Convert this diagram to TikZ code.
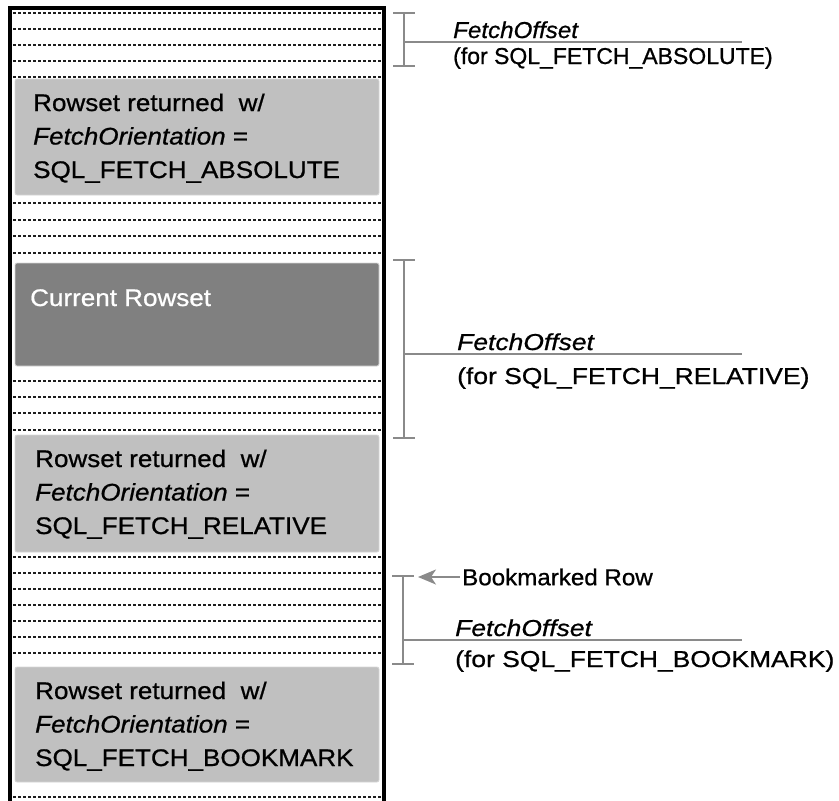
\documentclass[tikz,border=0pt]{standalone}
\usepackage{fontspec}
\setmainfont[FakeBold=0.8]{Liberation Sans}
\newfontfamily\boxfont[FakeStretch=1.085,FakeBold=0.8]{Liberation Sans}
\newfontfamily\widefont[FakeStretch=1.15,FakeBold=0.8]{Liberation Sans}
\newfontfamily\midfont[FakeStretch=1.05,FakeBold=0.8]{Liberation Sans}
\usetikzlibrary{arrows.meta}
\definecolor{lightbox}{HTML}{C0C0C0}
\definecolor{darkbox}{HTML}{808080}
\definecolor{boxedge}{HTML}{D6D6D6}
\definecolor{brk}{HTML}{8A8A8A}
\definecolor{dashc}{HTML}{1E1E1E}
\begin{document}
\begin{tikzpicture}[x=1pt,y=-1pt,
  rowline/.style={draw=dashc, line width=1.1pt, dash pattern=on 3pt off 2pt},
  rowsetbox/.style={draw=boxedge, line width=0.8pt, rounded corners=2pt, fill=lightbox},
  currentbox/.style={rowsetbox, fill=darkbox},
  boxtext/.style={anchor=base west, inner sep=0pt, font=\boxfont\fontsize{24}{28}\selectfont},
  labeltext/.style={anchor=base west, inner sep=0pt, font=\fontsize{23}{27}\selectfont},
  widelabel/.style={anchor=base west, inner sep=0pt, font=\widefont\fontsize{23}{27}\selectfont},
  bracketline/.style={draw=brk, line width=2.5pt},
  frameline/.style={draw=black, line width=3.2pt, line join=miter}
]
\useasboundingbox (0,0) rectangle (839,801);

% outer frame
\draw[frameline] (10,801) -- (10,8) -- (384,8) -- (384,801);

% dashed rows
\foreach \y in {13,29,45,61,77,203,220,236,253,381,397,413,430,557,573,589,605,621,637,653,797}
  \draw[rowline] (13,\y) -- (381,\y);

% rowset boxes
\path[rowsetbox] (15,79) rectangle (379,195);
\node[inner sep=0pt] (box1) at (197,137) {};
\path[currentbox] (15,263) rectangle (379,366);
\node[inner sep=0pt] (box2) at (197,314) {};
\path[rowsetbox] (15,435) rectangle (379,552);
\node[inner sep=0pt] (box3) at (197,493) {};
\path[rowsetbox] (15,667) rectangle (379,782);
\node[inner sep=0pt] (box4) at (197,724) {};

% box texts
\node[boxtext] (t1a) at (33,111) {Rowset returned\ \ w/};
\node[boxtext] (t1b) at (33,144.5) {\itshape FetchOrientation\upshape\ =};
\node[boxtext] (t1c) at (33,178) {SQL\_FETCH\_ABSOLUTE};

\node[boxtext, text=white] (t2a) at (30,306) {Current Rowset};

\node[boxtext] (t3a) at (35,467) {Rowset returned\ \ w/};
\node[boxtext] (t3b) at (35,500.5) {\itshape FetchOrientation\upshape\ =};
\node[boxtext] (t3c) at (35,534) {SQL\_FETCH\_RELATIVE};

\node[boxtext] (t4a) at (35,699) {Rowset returned\ \ w/};
\node[boxtext] (t4b) at (35,732.5) {\itshape FetchOrientation\upshape\ =};
\node[boxtext] (t4c) at (35,766) {SQL\_FETCH\_BOOKMARK};

% bracket 1
\coordinate (b1t) at (404,13);
\coordinate (b1b) at (404,66);
\coordinate (b1m) at (404,42);
\coordinate (b1e) at (742,42);
\draw[bracketline] (b1t) -- (b1b);
\draw[bracketline] ([xshift=-11pt]b1t) -- ([xshift=11pt]b1t);
\draw[bracketline] ([xshift=-11pt]b1b) -- ([xshift=11pt]b1b);
\draw[bracketline] (b1m) -- (b1e);
\node[anchor=base west, inner sep=0pt, font=\midfont\fontsize{23}{27}\selectfont] (fo1) at (453,38) {\itshape FetchOffset};
\node[labeltext] (fl1) at (453,64) {(for SQL\_FETCH\_ABSOLUTE)};

% bracket 2
\coordinate (b2t) at (404,260);
\coordinate (b2b) at (404,438);
\coordinate (b2m) at (404,354);
\coordinate (b2e) at (742,354);
\draw[bracketline] (b2t) -- (b2b);
\draw[bracketline] ([xshift=-11pt]b2t) -- ([xshift=11pt]b2t);
\draw[bracketline] ([xshift=-11pt]b2b) -- ([xshift=11pt]b2b);
\draw[bracketline] (b2m) -- (b2e);
\node[widelabel] (fo2) at (457,350) {\itshape FetchOffset};
\node[widelabel] (fl2) at (457,384) {(for SQL\_FETCH\_RELATIVE)};

% bracket 3
\coordinate (b3t) at (403,576);
\coordinate (b3b) at (403,664);
\coordinate (b3m) at (403,640);
\coordinate (b3e) at (742,640);
\draw[bracketline] (b3t) -- (b3b);
\draw[bracketline] ([xshift=-11pt]b3t) -- ([xshift=11pt]b3t);
\draw[bracketline] ([xshift=-11pt]b3b) -- ([xshift=11pt]b3b);
\draw[bracketline] (b3m) -- (b3e);
\node[widelabel] (fo3) at (455,636) {\itshape FetchOffset};
\node[widelabel] (fl3) at (455,667) {(for SQL\_FETCH\_BOOKMARK)};

% bookmarked row
\node[anchor=west, inner sep=2pt, font=\midfont\fontsize{23}{27}\selectfont] (bm) at (460,577) {Bookmarked Row};
\coordinate (bmtip) at (418,577);
\draw[draw=brk, line width=2.2pt, -{Stealth[length=18pt,width=15pt,inset=5pt]}] (bm.west) -- (bmtip);
\end{tikzpicture}
\end{document}
